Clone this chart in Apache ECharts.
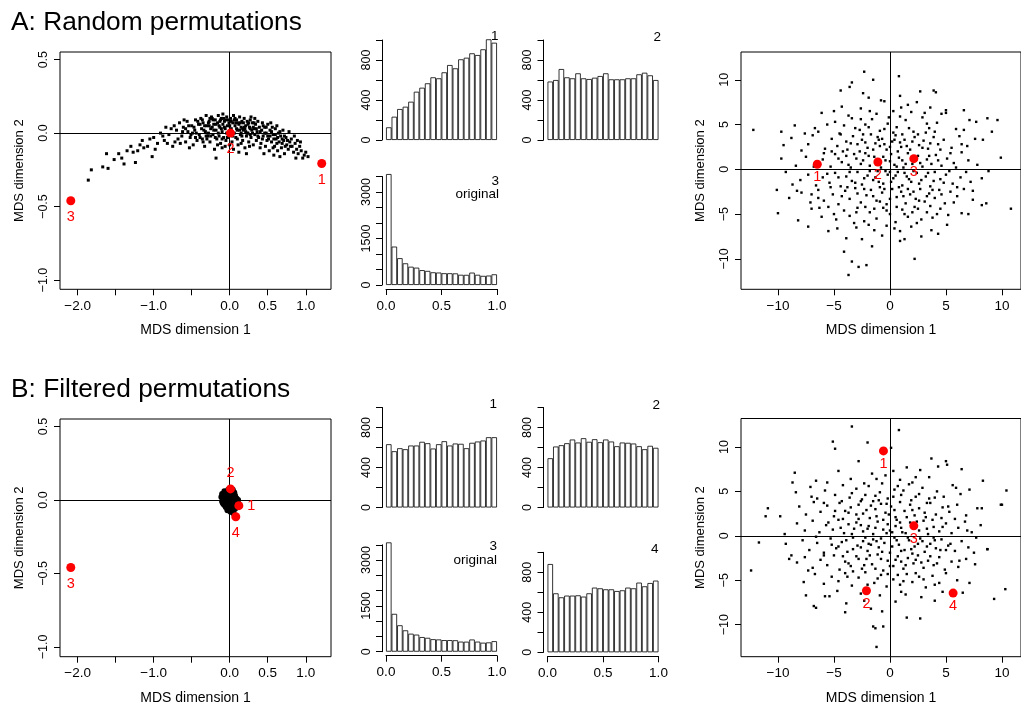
<!DOCTYPE html>
<html><head><meta charset="utf-8">
<script src="https://cdn.jsdelivr.net/npm/echarts@6/dist/echarts.min.js"></script>
<style>html,body{margin:0;padding:0;background:#fff}#c{width:1021px;height:711px}</style>
</head><body><div id="c"></div><script>
// ---------- DATA ----------
const binStarts = ['0.00','0.05','0.10','0.15','0.20','0.25','0.30','0.35','0.40','0.45','0.50','0.55','0.60','0.65','0.70','0.75','0.80','0.85','0.90','0.95'];
const histA1 = [127,233,310,333,383,483,523,567,627,617,677,750,717,807,823,867,850,907,1007,973];
const histA2 = [585,600,710,627,617,667,617,610,623,640,667,607,607,607,617,617,657,673,647,600];
const histOriginal = [3580,1240,866,700,590,560,480,455,410,402,380,380,375,330,328,400,330,295,305,345];
const histB1 = [633,563,593,583,620,620,657,643,590,633,663,620,640,637,593,647,660,670,703,703];
const histB2 = [493,610,623,643,680,650,693,657,683,653,680,660,613,650,647,640,613,583,617,597];
const histB4 = [883,590,550,567,567,570,557,590,647,640,630,630,613,620,647,640,697,660,693,717];

const refsALeft = [[1.21,-0.207,'1'],[0.01,0.0,'2'],[-2.09,-0.46,'3']];
const refsBLeft = [[0.12,-0.039,'1'],[0.01,0.075,'2'],[-2.09,-0.46,'3'],[0.08,-0.114,'4']];
const refsARight = [[-6.49,0.56,'1'],[-1.08,0.82,'2'],[2.13,1.19,'3']];
const refsBRight = [[-0.58,9.55,'1'],[-2.1,-6.18,'2'],[2.13,1.12,'3'],[5.64,-6.44,'4']];

const cloudALeft = [
[-1.86,-0.32],[-1.82,-0.25],[-1.67,-0.23],[-1.62,-0.14],[-1.60,-0.24],[-1.52,-0.18],[-1.46,-0.14],[-1.39,-0.21],[-1.30,-0.09],[-1.24,-0.20],[-1.21,-0.12],[-1.15,-0.05],[-1.13,-0.10],[-1.08,-0.09],[-1.02,-0.16],[-1.00,-0.03],[-0.95,-0.07],[-0.91,0.00],[-0.86,-0.05],[-0.84,0.04],[-0.80,-0.01],[-0.75,-0.09],[-0.73,0.05],
[-1.35,-0.12],[-1.18,-0.08],[-1.05,-0.04],[-0.98,-0.11],[-0.88,-0.02],[-0.82,-0.07],[-1.42,-0.17],[-1.27,-0.13],
[-0.70,0.02],[-0.68,-0.04],[-0.66,0.07],[-0.63,-0.02],[-0.61,0.04],[-0.58,-0.06],[-0.56,0.08],[-0.55,0.01],[-0.52,-0.03],[-0.50,0.05],[-0.48,-0.08],[-0.46,0.02],[-0.45,0.09],[-0.43,-0.05],[-0.41,0.06],[-0.40,-0.01],[-0.65,-0.07],[-0.60,0.09],[-0.53,-0.10],[-0.72,-0.06],[-0.77,0.03],[-0.49,0.0],
[-0.38,0.10],[-0.37,0.03],[-0.36,-0.04],[-0.35,0.07],[-0.33,-0.09],[-0.32,0.01],[-0.31,0.12],[-0.30,0.05],[-0.29,-0.02],[-0.27,0.08],[-0.26,-0.06],[-0.25,0.03],[-0.24,0.11],[-0.22,-0.01],[-0.21,0.06],[-0.20,-0.11],[-0.19,0.09],[-0.18,0.02],[-0.17,-0.04],[-0.16,0.07],[-0.15,0.12],[-0.14,-0.02],[-0.13,0.04],[-0.12,-0.07],[-0.11,0.10],[-0.10,0.01],[-0.09,0.06],[-0.08,-0.03],[-0.07,0.08],[-0.06,0.03],[-0.05,-0.05],[-0.04,0.11],[-0.03,0.05],[-0.02,-0.01],[-0.01,0.07],[-0.18,-0.17],[-0.35,-0.06],[-0.28,0.0],[-0.23,0.04],[-0.13,0.08],[-0.06,-0.09],[-0.39,0.06],[-0.16,-0.08],[-0.09,0.13],[-0.26,0.10],
[-0.34,0.02],[-0.30,-0.04],[-0.22,0.09],[-0.19,-0.03],[-0.11,0.03],[-0.08,0.10],[-0.04,0.00],[-0.02,0.09],[-0.27,0.05],[-0.14,0.05],
[0.01,0.10],[0.02,0.03],[0.03,-0.06],[0.04,0.07],[0.05,0.12],[0.06,0.0],[0.07,0.05],[0.08,-0.03],[0.09,0.09],[0.10,0.02],[0.11,-0.08],[0.12,0.06],[0.13,0.11],[0.14,-0.01],[0.15,0.04],[0.16,0.08],[0.17,-0.05],[0.18,0.02],[0.19,0.10],[0.20,-0.10],[0.21,0.05],[0.22,-0.02],[0.23,0.08],[0.24,0.0],[0.25,-0.06],[0.26,0.04],[0.27,0.09],[0.28,-0.03],[0.29,0.02],[0.30,0.07],[0.31,-0.08],[0.32,0.03],[0.33,-0.01],[0.34,0.06],[0.35,-0.05],[0.36,0.01],[0.37,0.08],[0.38,-0.03],[0.39,0.04],[0.05,-0.11],[0.12,-0.13],[0.22,-0.14],[0.28,0.11],[0.08,0.07],[0.17,0.03],[0.33,0.10],
[0.03,0.01],[0.06,0.09],[0.10,-0.04],[0.14,0.07],[0.19,0.04],[0.24,0.06],[0.27,-0.01],[0.31,0.04],[0.15,0.00],[0.21,0.01],
[0.41,-0.07],[0.42,0.02],[0.43,0.07],[0.44,-0.02],[0.46,0.04],[0.47,-0.09],[0.48,0.0],[0.50,0.06],[0.51,-0.04],[0.52,-0.12],[0.53,0.02],[0.55,-0.06],[0.56,0.04],[0.57,-0.01],[0.59,-0.09],[0.60,0.03],[0.61,-0.04],[0.63,-0.12],[0.64,0.0],[0.65,-0.06],[0.67,-0.02],[0.68,-0.10],[0.70,0.02],[0.71,-0.05],[0.72,-0.14],[0.74,-0.03],[0.75,-0.08],[0.77,-0.11],[0.78,0.01],[0.79,-0.06],[0.45,-0.14],[0.58,-0.15],[0.66,-0.16],[0.54,0.07],[0.62,0.05],
[0.44,0.05],[0.49,-0.05],[0.57,-0.10],[0.62,-0.07],[0.69,-0.04],[0.73,-0.09],
[0.81,-0.04],[0.82,-0.09],[0.84,-0.13],[0.85,-0.02],[0.86,-0.07],[0.88,-0.11],[0.89,-0.05],[0.90,-0.14],[0.92,-0.09],[0.94,-0.12],[0.96,-0.17],[0.98,-0.15],[1.00,-0.13],[1.03,-0.16],[0.87,-0.17],[0.93,-0.06],
[-0.47,0.04],[-0.44,0.0],[-0.42,0.08],[-0.39,-0.03],[-0.36,0.09],[-0.33,0.05],[-0.31,-0.02],[-0.28,0.07],[-0.25,-0.02],[-0.23,0.10],[-0.21,0.02],[-0.18,0.06],[-0.15,0.0],[-0.12,0.09],[-0.10,-0.04],[-0.07,0.04],[-0.05,0.09],[-0.03,-0.03],[0.00,0.05],[0.02,0.08],[0.04,-0.02],[0.07,0.10],[0.09,0.03],[0.11,0.07],[0.13,0.02],[0.16,-0.02],[0.18,0.07],[0.20,0.03],[0.23,0.0],[0.25,0.07],[0.27,0.03],[0.30,0.00],[0.32,0.07],[0.35,0.03],[0.37,-0.02],[0.40,0.01],[0.43,-0.04],[0.46,0.0],[0.48,0.04],[0.50,-0.02],[0.53,-0.02],[0.55,0.01],[0.58,-0.04],[0.60,-0.01],[0.63,-0.03],[0.66,0.01],[0.69,-0.07],[0.72,-0.02],[0.76,-0.05],[0.80,-0.09],[-0.58,0.03],[-0.62,0.01],[-0.54,0.05],[-0.51,-0.01],[-0.45,-0.03],[0.15,-0.07],[0.26,-0.09],[0.40,-0.10],[-0.10,-0.10],[0.0,-0.08]
];

const cloudBLeft = [
[-0.11,0.02],[-0.10,-0.01],[-0.09,0.04],[-0.08,-0.03],[-0.07,0.06],[-0.06,0.01],[-0.05,-0.05],[-0.04,0.03],[-0.03,-0.02],[-0.02,0.07],[-0.01,0.00],[0.00,-0.06],[0.01,0.04],[0.02,-0.03],[0.03,0.06],[0.04,0.01],[0.05,-0.07],[0.06,-0.02],[0.07,0.03],[0.08,-0.04],[0.09,0.01],[0.10,-0.02],[0.11,0.00],[0.12,-0.03],[-0.08,0.01],[-0.06,-0.04],[-0.04,0.05],[-0.02,-0.05],[0.00,0.02],[0.02,0.00],[0.04,-0.05],[0.06,0.05],[0.03,-0.08],[0.05,-0.09],[0.01,-0.08],[-0.09,-0.02],[-0.07,0.03],[-0.05,0.00],[-0.03,0.04],[-0.01,-0.03],[0.01,0.06],[0.03,0.02],[0.05,0.04],[0.07,-0.01],[0.09,-0.05],[0.07,-0.06],[-0.03,-0.07],[-0.10,0.04],[0.04,0.07]
];

const cloudARight = [
[-2.3,10.9],[-3.4,9.7],[0.8,10.4],[-1.5,10.0],[-4.4,8.8],[3.9,8.8],[4.1,8.6],[-3.6,9.2],[-2.4,8.5],[2.7,8.7],[0.9,8.2],[-1.9,8.0],
[-4.3,7.0],[-5.0,6.5],[-0.8,7.7],[-0.5,7.6],[1.6,7.2],[2.4,7.5],[6.6,6.6],[5.0,6.6],[-2.6,6.8],[-1.2,6.2],[0.3,6.5],[3.6,6.9],[4.6,6.2],[-3.7,6.0],[1.0,6.9],[-6.1,6.3],
[-8.5,4.9],[-9.7,4.2],[-12.2,4.4],[-6.7,4.6],[-6.4,4.2],[-4.9,5.3],[-4.1,4.9],[-3.4,5.7],[-2.7,4.4],[-1.6,5.6],[-0.9,4.3],[-0.2,5.1],[0.6,4.7],[1.4,5.5],[2.1,4.2],[2.9,5.8],[3.5,4.6],[4.2,5.2],[5.0,6.3],[5.9,4.5],[7.1,5.5],[7.7,5.3],[8.7,5.7],[9.6,5.5],[9.1,4.2],[-5.6,5.0],[-7.6,4.0],[-2.2,5.0],[0.9,5.9],[3.2,4.1],
[-9.5,2.7],[-8.8,3.5],[-7.3,2.8],[-6.9,3.8],[-5.8,2.3],[-5.2,3.4],[-4.7,2.6],[-4.4,3.9],[-3.8,2.2],[-3.3,3.7],[-2.9,2.8],[-2.5,3.3],[-2.0,2.4],[-1.7,3.9],[-1.3,2.9],[-0.7,3.4],[-0.3,2.2],[0.2,3.1],[0.5,3.8],[1.0,2.5],[1.3,3.3],[1.8,2.2],[2.2,3.6],[2.6,2.7],[3.0,3.2],[3.4,2.3],[3.9,3.6],[4.3,2.8],[4.8,3.3],[5.5,2.4],[6.2,3.7],[6.9,2.6],[7.6,3.4],[8.3,3.3],[-0.9,2.6],[0.7,2.0],
[-9.7,1.2],[-8.4,0.4],[-7.5,1.4],[-6.0,1.1],[-5.3,0.3],[-4.9,1.7],[-4.3,0.8],[-3.9,1.5],[-3.5,0.2],[-3.0,1.2],[-2.6,0.6],[-2.2,1.8],[-1.8,0.4],[-1.4,1.4],[-0.8,0.2],[-0.4,1.0],[0.1,1.7],[0.4,0.5],[0.8,1.3],[1.2,0.2],[1.6,1.8],[2.0,0.6],[2.5,1.5],[2.9,0.3],[3.3,1.1],[3.7,0.6],[4.1,1.6],[4.6,0.4],[5.1,1.2],[5.7,0.7],[6.4,1.9],[7.0,1.0],[7.8,0.5],[9.9,1.3],[-1.0,1.1],[1.9,1.3],
[-9.3,-0.3],[-10.1,-2.3],[-8.7,-1.7],[-8.0,-1.2],[-7.3,-0.6],[-6.6,-1.8],[-6.0,-0.9],[-5.4,-1.5],[-4.9,-0.4],[-4.4,-1.9],[-3.9,-0.8],[-3.4,-1.3],[-2.9,-0.3],[-2.5,-1.7],[-2.0,-0.7],[-1.5,-1.2],[-1.1,-0.2],[-0.6,-1.6],[-0.2,-0.6],[0.3,-1.0],[0.7,-0.3],[1.1,-1.8],[1.5,-0.8],[1.9,-1.4],[2.4,-0.4],[2.8,-1.2],[3.2,-0.8],[3.6,-1.9],[4.0,-0.3],[4.5,-1.1],[5.0,-0.6],[5.6,-1.6],[6.3,-0.9],[7.2,-1.4],[8.8,-0.2],[8.2,-1.0],[0.0,-0.3],[-1.3,-0.9],
[-9.0,-3.2],[-7.9,-2.6],[-7.1,-3.7],[-6.4,-2.3],[-5.9,-3.5],[-5.1,-2.8],[-4.6,-3.9],[-4.0,-2.4],[-3.6,-3.3],[-3.1,-2.1],[-2.6,-3.7],[-2.1,-2.9],[-1.7,-2.3],[-1.2,-3.5],[-0.7,-2.6],[-0.3,-3.9],[0.2,-2.2],[0.6,-3.1],[1.0,-2.5],[1.4,-3.8],[1.8,-2.8],[2.3,-3.3],[2.7,-2.2],[3.1,-3.6],[3.5,-2.7],[4.0,-3.2],[4.4,-2.3],[4.9,-3.8],[5.4,-2.5],[6.0,-3.0],[6.6,-2.2],[7.4,-3.4],[8.2,-4.0],[8.6,-3.8],[-8.3,-2.4],[-0.9,-2.0],
[-10.0,-4.9],[-8.2,-5.7],[-7.0,-4.4],[-6.1,-5.3],[-5.5,-4.2],[-4.8,-5.6],[-4.1,-4.6],[-3.6,-5.2],[-2.9,-4.3],[-2.3,-5.8],[-1.8,-4.8],[-1.2,-5.5],[-0.6,-4.3],[0.0,-5.0],[0.5,-5.9],[1.1,-4.5],[1.6,-5.3],[2.2,-4.2],[2.8,-5.6],[3.3,-4.8],[3.8,-5.4],[4.5,-4.4],[5.2,-5.1],[6.4,-4.9],[7.0,-5.0],[10.8,-4.4],[-3.2,-6.0],
[-7.3,-6.4],[-4.7,-6.6],[-4.1,-9.2],[-3.4,-10.3],[-3.7,-11.8],[-2.8,-10.9],[-2.1,-10.7],[-3.9,-7.7],[-2.5,-7.8],[-1.4,-6.8],[-0.7,-7.4],[0.4,-6.6],[1.3,-7.8],[1.9,-6.4],[2.2,-10.0],[2.8,-7.5],[3.7,-6.8],[4.3,-7.2],[-1.6,-8.6],[0.9,-8.0],[-3.0,-6.5],[5.1,-6.2],[-5.5,-6.9],
[-4.5,4.0],[-3.9,3.1],[-3.1,4.6],[-2.4,3.9],[-1.9,4.7],[-1.1,3.6],[-0.5,4.5],[0.3,4.1],[1.1,3.9],[1.7,4.6],[2.5,3.9],[3.3,5.1],[4.0,4.2],[-4.2,2.0],[-3.5,2.9],[-2.7,2.0],[-2.2,3.0],[-1.5,2.2],[-1.0,3.3],[-0.5,2.8],[0.0,2.5],[0.4,3.3],[0.9,3.0],[1.5,2.6],[2.0,3.1],[2.9,2.4],[3.6,2.9],[4.5,2.2],[-4.6,1.2],[-3.7,0.5],[-3.2,1.7],[-2.4,1.0],[-1.9,1.5],[-1.2,0.6],[-0.6,1.4],[0.0,0.9],[0.6,0.3],[1.1,1.0],[1.4,0.6],[2.2,1.1],[2.7,0.7],[3.5,1.5],[4.3,1.0],[-4.6,-0.9],[-3.6,-0.3],[-3.1,-1.5],[-2.3,-1.0],[-1.8,-0.2],[-1.0,-1.4],[-0.4,-0.2],[0.1,-1.4],[0.5,-0.7],[1.3,-0.4],[1.7,-1.1],[2.1,-0.2],[2.6,-1.6],[3.4,-0.4],[3.9,-1.3],[4.8,-1.5],[-4.3,-3.0],[-3.8,-2.0],[-2.9,-2.7],[-2.3,-2.2],[-1.5,-3.0],[-0.9,-3.6],[-0.5,-2.2],[0.0,-3.3],[0.8,-2.0],[1.2,-3.0],[1.6,-2.2],[2.1,-2.5],[2.6,-3.5],[3.3,-3.0],[3.8,-2.3],[4.6,-2.8],[-3.0,-4.8],[-2.2,-4.2],[-1.4,-4.4],[-0.3,-4.6],[0.6,-4.2],[1.3,-5.0],[2.0,-4.8],[2.5,-4.4],[3.6,-4.1],[4.2,-5.0],[-5.3,-2.0],[-5.6,-0.5],[-5.9,1.8],[-5.2,2.0],[5.3,-0.2],[5.9,0.2],[5.4,1.8],[6.0,-2.0],[-6.4,-3.2],[6.4,2.8],[-6.8,0.3],[6.8,-0.3],[-1.8,6.5],[1.9,6.4],[-0.1,5.8],[2.4,-6.0],[-0.3,-6.3],[-1.9,-6.2],[0.9,-6.9],[-5.0,-5.0],[5.7,-3.7],[-6.3,-4.3],[-2.6,5.6],[3.1,6.3],[-7.9,2.1],[-7.0,-2.8],[7.4,-2.4],[6.6,4.4]
];

const cloudBRight = [
[-5.1,10.6],[-4.9,9.8],[-3.4,12.3],[-2.0,10.5],[-2.8,8.4],[0.8,11.9],[0.1,9.9],[3.7,8.7],[4.3,7.8],[5.0,8.4],[5.1,8.0],[6.4,7.5],[8.3,6.2],[-8.5,7.1],[-8.7,6.0],
[-1.6,7.0],[-0.4,6.8],[0.9,6.3],[2.0,6.0],[2.7,7.4],[-3.5,6.4],[-4.6,7.3],[-5.6,6.0],[3.5,6.6],[-2.3,5.9],[1.5,7.7],[-6.6,6.2],
[-8.4,4.9],[-7.1,5.5],[-6.5,4.2],[-5.8,5.1],[-4.9,4.6],[-4.2,5.7],[-3.6,4.3],[-3.0,5.3],[-2.5,4.1],[-1.9,5.6],[-1.3,4.5],[-0.7,5.9],[-0.2,4.2],[0.4,5.2],[1.0,4.6],[1.7,5.8],[2.3,4.4],[2.9,5.4],[3.5,4.2],[4.2,5.0],[4.8,4.4],[5.6,5.7],[6.3,4.7],[7.1,5.2],[-1.0,4.0],[0.7,5.6],[10.4,5.1],
[-10.9,3.1],[-11.1,2.2],[-9.8,2.2],[-8.1,3.3],[-7.5,2.4],[-6.8,3.8],[-6.2,2.7],[-5.6,3.4],[-5.0,2.2],[-4.5,3.7],[-4.0,2.8],[-3.5,3.2],[-3.0,2.4],[-2.6,3.9],[-2.1,2.9],[-1.7,3.4],[-1.2,2.2],[-0.8,3.6],[-0.4,2.6],[0.1,3.3],[0.5,2.1],[0.9,3.8],[1.3,2.8],[1.8,3.5],[2.2,2.3],[2.6,3.1],[3.1,2.6],[3.6,3.7],[4.1,2.4],[4.7,3.2],[5.3,2.7],[6.0,3.5],[6.8,2.3],[7.8,3.1],[8.2,3.1],[9.9,3.5],[10.0,3.5],
[-9.4,0.2],[-8.3,1.4],[-7.6,0.6],[-6.9,1.7],[-6.3,0.4],[-5.7,1.2],[-5.1,0.7],[-4.6,1.8],[-4.1,0.3],[-3.7,1.3],[-3.2,0.8],[-2.8,1.9],[-2.4,0.5],[-1.9,1.1],[-1.5,0.2],[-1.1,1.6],[-0.6,0.7],[-0.2,1.3],[0.2,0.4],[0.6,1.8],[1.0,0.9],[1.4,0.3],[1.8,1.5],[2.6,0.6],[3.0,1.7],[3.4,0.2],[3.9,1.0],[4.4,0.5],[5.0,1.4],[5.5,0.3],[6.1,0.9],[6.7,1.6],[7.3,0.4],[8.1,1.2],[-2.0,0.8],[0.0,0.6],
[-11.7,-0.75],[-9.3,-0.9],[-8.8,-2.2],[-7.8,-0.5],[-7.2,-1.6],[-6.5,-0.8],[-5.9,-1.9],[-5.3,-0.3],[-4.8,-1.4],[-4.3,-0.7],[-3.8,-1.8],[-3.3,-0.2],[-2.9,-1.1],[-2.4,-0.6],[-2.0,-1.7],[-1.5,-0.4],[-1.0,-1.3],[-0.5,-0.8],[0.0,-1.9],[0.4,-0.2],[0.8,-1.0],[1.3,-1.6],[1.7,-0.5],[2.2,-1.2],[2.7,-0.3],[3.1,-1.8],[3.6,-0.9],[4.1,-1.4],[4.6,-0.4],[5.2,-1.1],[5.8,-1.7],[6.4,-0.6],[7.0,-1.3],[7.7,-0.2],[8.7,-1.5],[4.5,-1.6],[-1.7,-1.0],
[-12.4,-3.9],[-8.3,-3.0],[-7.6,-2.4],[-6.9,-3.6],[-6.2,-2.7],[-5.6,-3.3],[-5.0,-2.2],[-4.5,-3.8],[-4.0,-2.9],[-3.5,-3.4],[-3.0,-2.3],[-2.5,-3.7],[-2.1,-2.6],[-1.6,-3.2],[-1.1,-2.1],[-0.6,-3.9],[-0.2,-2.8],[0.3,-3.4],[0.7,-2.3],[1.2,-3.7],[1.6,-2.5],[2.1,-3.1],[2.5,-2.2],[3.0,-3.6],[3.4,-2.8],[3.9,-3.3],[4.4,-2.4],[4.9,-3.8],[5.5,-2.9],[6.1,-3.5],[6.8,-2.6],[7.6,-3.2],[-9.0,-2.6],[2.0,-2.0],
[-7.7,-5.2],[-6.7,-4.3],[-5.9,-5.4],[-5.2,-4.6],[-4.6,-5.1],[-4.0,-4.2],[-3.4,-5.6],[-2.8,-4.7],[-1.4,-5.3],[-0.8,-4.4],[-0.3,-5.7],[0.3,-4.9],[0.9,-5.5],[1.5,-4.3],[2.0,-5.2],[2.6,-4.6],[3.2,-5.8],[3.8,-4.5],[4.4,-5.3],[5.0,-4.2],[6.0,-5.0],[7.1,-5.3],[10.3,-6.0],[-3.3,-4.0],
[-7.5,-6.7],[-6.8,-7.9],[-6.6,-8.1],[-5.8,-6.8],[-5.4,-6.8],[-4.0,-8.6],[-3.9,-7.6],[-2.6,-6.5],[-1.2,-12.5],[-1.5,-10.2],[-1.3,-10.4],[-0.6,-10.2],[-0.7,-8.5],[-1.7,-8.2],[1.5,-9.2],[2.7,-9.3],[4.0,-7.3],[6.5,-6.4],[9.3,-7.1],[0.5,-7.4],[1.4,-6.6],[2.8,-6.9],[-2.3,-7.3],[8.7,-1.5],
[-4.3,3.9],[-3.4,4.8],[-2.8,3.5],[-2.2,4.6],[-1.5,3.9],[-0.9,4.9],[-0.3,3.6],[0.3,4.4],[1.2,5.1],[1.9,4.0],[2.6,4.7],[3.3,3.7],[4.0,4.3],[-4.9,2.8],[-4.2,1.9],[-3.7,2.6],[-3.0,1.5],[-2.4,2.5],[-1.8,2.0],[-1.3,3.0],[-0.6,1.8],[-0.1,2.4],[0.4,2.9],[0.9,1.5],[1.5,2.1],[2.0,2.9],[2.4,1.6],[3.2,2.1],[3.8,1.8],[4.6,2.0],[-4.4,0.9],[-3.4,0.2],[-2.6,1.2],[-2.2,-0.2],[-1.3,0.9],[-0.8,-0.3],[-0.3,0.3],[0.5,1.1],[1.1,0.4],[1.6,-0.2],[2.1,0.9],[2.9,-0.6],[3.3,0.8],[4.0,-0.5],[4.7,1.0],[-4.6,-1.2],[-3.9,-0.5],[-3.3,-1.5],[-2.6,-1.3],[-1.9,-0.9],[-1.2,-0.6],[-0.7,-1.8],[0.2,-1.2],[0.6,-0.5],[1.0,-1.7],[1.9,-1.5],[2.5,-0.9],[3.3,-1.2],[3.9,-0.2],[5.0,-1.6],[-4.2,-2.3],[-3.7,-3.1],[-2.8,-2.6],[-2.3,-3.3],[-1.8,-2.2],[-1.3,-3.7],[-0.8,-2.6],[0.0,-3.4],[0.5,-2.7],[1.0,-2.9],[1.4,-3.3],[2.3,-2.7],[2.8,-3.0],[3.6,-2.3],[4.2,-3.1],[-3.8,-4.6],[-2.2,-4.1],[-1.1,-4.8],[-0.2,-4.3],[0.7,-4.4],[1.2,-5.1],[2.3,-4.2],[3.0,-4.9],[4.0,-5.5],[-5.2,-1.0],[-5.5,1.5],[-5.9,-2.2],[5.4,-0.9],[5.8,1.9],[5.2,3.3],[-5.9,3.7],[6.2,-2.8],[-6.6,-0.1],[6.9,0.6],[-1.2,6.4],[0.3,7.3],[2.3,6.6],[-0.9,-6.7],[1.0,-6.3],[-2.0,-5.5],[-4.7,-6.2],[4.7,-6.3],[-7.0,4.4],[7.5,-1.9],[-7.3,-3.9],[5.9,5.4]
];

const leftXTicks = [-2,-1.5,-1,-0.5,0,0.5,1];
const leftXLabels = [-2,-1,0,0.5,1];
const leftYTicks = [-1,-0.5,0,0.5];
const rightTicks = [-10,-5,0,5,10];
const histSmallTicks = [0,200,400,600,800,1000];
const histSmallLabels = [0,400,800];
const histBigTicks = [0,500,1000,1500,2000,2500,3000,3500];
const histBigLabels = [0,1500,3000];
const histXTicks = [0,0.5,1];

// ---------- BUILD ----------
const FONT = '"Liberation Sans", Arial, Helvetica, sans-serif';
const grids = [], xAxes = [], yAxes = [], series = [], graphics = [];
const minus = s => String(s).replace('-', '\u2212');
const f1 = v => minus(Number(v).toFixed(1));
const f0 = v => minus(String(v));

function addScatter(box, xr, yr, xt, xl, yt, yl, fmt, cloud, refs, labelPos, dist, dot) {
  const g = grids.length;
  grids.push({left: box[0], top: box[1], width: box[2], height: box[3], show: true,
    borderColor: '#000', borderWidth: 1, backgroundColor: 'transparent'});
  const xi = xAxes.length, yi = yAxes.length;
  xAxes.push({type: 'value', gridIndex: g, min: xr[0], max: xr[1],
    axisLine: {show: false, onZero: false}, splitLine: {show: false},
    axisTick: {show: true, length: 6, customValues: xt, lineStyle: {color: '#000', width: 1}},
    axisLabel: {customValues: xl, formatter: fmt, color: '#000', fontSize: 13.5, fontFamily: FONT, margin: 10},
    name: 'MDS dimension 1', nameLocation: 'middle', nameGap: 34,
    nameTextStyle: {color: '#000', fontSize: 14, fontFamily: FONT}});
  yAxes.push({type: 'value', gridIndex: g, min: yr[0], max: yr[1],
    axisLine: {show: false, onZero: false}, splitLine: {show: false},
    axisTick: {show: true, length: 6, customValues: yt, lineStyle: {color: '#000', width: 1}},
    axisLabel: {customValues: yl, formatter: fmt, rotate: 90, color: '#000', fontSize: 12.5, fontFamily: FONT, margin: 10},
    name: 'MDS dimension 2', nameLocation: 'middle', nameGap: 34,
    nameTextStyle: {color: '#000', fontSize: 13, fontFamily: FONT}});
  series.push({type: 'scatter', xAxisIndex: xi, yAxisIndex: yi, data: cloud,
    symbol: dot.symbol, symbolSize: dot.size, itemStyle: {color: '#000', opacity: 1},
    silent: true, z: 2,
    markLine: {silent: true, symbol: ['none', 'none'], label: {show: false},
      lineStyle: {color: '#000', width: 1, type: 'solid'}, animation: false,
      data: [{xAxis: 0}, {yAxis: 0}]}});
  series.push({type: 'scatter', xAxisIndex: xi, yAxisIndex: yi, z: 5, silent: true,
    symbol: 'circle', symbolSize: 9, itemStyle: {color: '#ff0000', opacity: 1},
    label: {show: true, formatter: '{b}', color: '#ff0000', fontSize: 14.5, fontFamily: FONT, distance: dist},
    data: refs.map(r => ({value: [r[0], r[1]], name: r[2], label: {position: labelPos[r[2]] || 'bottom'}}))});
}

function addHist(box, values, yMax, yt, yl, showX) {
  const g = grids.length;
  grids.push({left: box[0], top: box[1], width: box[2], height: box[3], show: false});
  const xi = xAxes.length, yi = yAxes.length;
  xAxes.push({type: 'category', gridIndex: g, data: binStarts, boundaryGap: true, show: false});
  if (showX) {
    xAxes.push({type: 'value', gridIndex: g, min: 0, max: 1, position: 'bottom', offset: 4,
      axisLine: {show: true, onZero: false, lineStyle: {color: '#000', width: 1}}, splitLine: {show: false},
      axisTick: {show: true, length: 6, customValues: histXTicks, lineStyle: {color: '#000'}},
      axisLabel: {customValues: histXTicks, formatter: f1, color: '#000', fontSize: 13.5, fontFamily: FONT, margin: 10}});
  }
  yAxes.push({type: 'value', gridIndex: g, min: 0, max: yMax, offset: 4,
    axisLine: {show: true, onZero: false, lineStyle: {color: '#000', width: 1}}, splitLine: {show: false},
    axisTick: {show: true, length: 6, customValues: yt, lineStyle: {color: '#000'}},
    axisLabel: {customValues: yl, formatter: f0, rotate: 90, color: '#000', fontSize: 12.5, fontFamily: FONT, margin: 9}});
  series.push({type: 'bar', xAxisIndex: xi, yAxisIndex: yi, data: values, clip: false,
    barCategoryGap: '0%', silent: true,
    itemStyle: {color: '#fff', borderColor: '#111', borderWidth: 0.85}});
}

function addText(x, y, text, size, align) {
  graphics.push({type: 'text', x: x, y: y, silent: true,
    style: {text: text, fill: '#000', fontSize: size, fontFamily: FONT,
      textAlign: align || 'right', textVerticalAlign: 'middle'}});
}

// Row A
addScatter([60, 52, 271, 237.3], [-2.232, 1.332], [-1.063, 0.552], leftXTicks, leftXLabels, leftYTicks, leftYTicks, f1,
  cloudALeft, refsALeft, {}, 4, {symbol: 'rect', size: 3});
addScatter([741, 52, 285, 237.3], [-13.3, 11.7], [-13.4, 13.1], rightTicks, rightTicks, rightTicks, rightTicks, f0,
  cloudARight, refsARight, {}, 1, {symbol: 'rect', size: 2.4});
addHist([386, 40, 111, 100], histA1, 1000, histSmallTicks, histSmallLabels, false);
addHist([547.5, 40, 111, 100], histA2, 1000, histSmallTicks, histSmallLabels, false);
addHist([386, 176.5, 111, 108.5], histOriginal, 3500, histBigTicks, histBigLabels, true);

// Row B
addScatter([60, 419, 271, 237.7], [-2.232, 1.332], [-1.067, 0.551], leftXTicks, leftXLabels, leftYTicks, leftYTicks, f1,
  cloudBLeft, refsBLeft, {'1': 'right', '2': 'top', '3': 'bottom', '4': 'bottom'}, 4, {symbol: 'circle', size: 6});
addScatter([741, 418.5, 285, 238.2], [-13.3, 11.7], [-13.6, 13.2], rightTicks, rightTicks, rightTicks, rightTicks, f0,
  cloudBRight, refsBRight, {}, 1, {symbol: 'rect', size: 2.4});
addHist([386, 407.5, 111, 100], histB1, 1000, histSmallTicks, histSmallLabels, false);
addHist([547.5, 407.5, 111, 100], histB2, 1000, histSmallTicks, histSmallLabels, false);
addHist([386, 544.8, 111, 106.9], histOriginal, 3500, histBigTicks, histBigLabels, true);
addHist([547.5, 552.3, 111, 100], histB4, 1000, histSmallTicks, histSmallLabels, true);

// Titles and panel labels
addText(11, 22.5, 'A: Random permutations', 26.3, 'left');
addText(11, 389.5, 'B: Filtered permutations', 26.3, 'left');
addText(498.5, 36.5, '1', 13.5);
addText(661, 37, '2', 13.5);
addText(499, 181, '3', 13.5);
addText(499, 194, 'original', 13.5);
addText(497, 404.5, '1', 13.5);
addText(660, 405, '2', 13.5);
addText(497, 546.5, '3', 13.5);
addText(497, 560, 'original', 13.5);
addText(658.5, 549, '4', 13.5);

const chart = echarts.init(document.getElementById('c'), null, {renderer: 'canvas'});
chart.setOption({animation: false, backgroundColor: '#fff', grid: grids, xAxis: xAxes, yAxis: yAxes,
  series: series, graphic: {elements: graphics}});
</script></body></html>
